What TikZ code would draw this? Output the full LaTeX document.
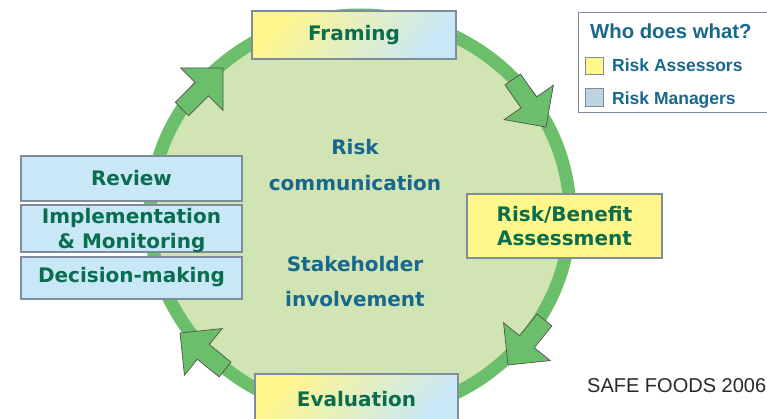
\documentclass[tikz,border=0pt]{standalone}
\usepackage{fontspec}
\newfontfamily\verd{DejaVu Sans}
\newfontfamily\arial{Liberation Sans}
\definecolor{ringgreen}{RGB}{108,191,106}
\definecolor{innergreen}{RGB}{209,228,179}
\definecolor{boxtext}{RGB}{10,110,78}
\definecolor{bluetext}{RGB}{24,104,140}
\definecolor{boxborder}{RGB}{127,140,155}
\definecolor{yel}{RGB}{255,246,140}
\definecolor{lblue}{RGB}{200,232,248}
\definecolor{legblue}{RGB}{190,212,226}
\definecolor{arrowline}{RGB}{80,80,80}
\definecolor{darkgray}{RGB}{40,40,40}
\tikzset{
  stagebox/.style={draw=boxborder, line width=1.1pt},
  stagetext/.style={font=\verd\bfseries\fontsize{20}{24.5}\selectfont, text=boxtext, align=center},
  centertext/.style={font=\verd\bfseries\fontsize{20}{24}\selectfont, text=bluetext, anchor=base},
  legtext/.style={font=\arial\bfseries\fontsize{17.5}{20}\selectfont, text=bluetext, anchor=base west, inner sep=0pt},
  arrowstyle/.style={fill=ringgreen, draw=arrowline, line width=0.7pt, line join=miter},
  blockarrow/.pic={\draw[arrowstyle] (0,0) -- (-30,30) -- (-30,9.5) -- (-58,9.5) -- (-58,-9.5) -- (-30,-9.5) -- (-30,-30) -- cycle;}
}
\begin{document}
\begin{tikzpicture}[x=1pt,y=1pt]
\useasboundingbox (0,0) rectangle (767,419);
\clip (0,0) rectangle (767,419);
% cycle
\draw[fill=innergreen, draw=ringgreen, line width=13pt] (360,204) ellipse [x radius=210, y radius=200];
% arrows
\pic[rotate=45] at (223,351) {blockarrow};
\pic[rotate=-55] at (546,292) {blockarrow};
\pic[rotate=231] at (508,54) {blockarrow};
\pic[rotate=141] at (180,86) {blockarrow};
% center text
\node[centertext] (risk) at (355,264) {Risk};
\node[centertext] (comm) at (355,228) {communication};
\node[centertext] (stake) at (355,147) {Stakeholder};
\node[centertext] (invol) at (355,112) {involvement};
% stage boxes
\draw[stagebox, top color=yel, bottom color=lblue, shading angle=50] (252,360) rectangle (456,408);
\node[stagetext] (framing) at (354,384) {Framing};
\draw[stagebox, top color=yel, bottom color=lblue, shading angle=50] (255,-5) rectangle (458,45);
\node[stagetext] (evaluation) at (356.5,20) {Evaluation};
\draw[stagebox, fill=yel] (467,161) rectangle (662,225);
\node[stagetext] (rba) at (564.5,193) {Risk/Benefit\\Assessment};
\draw[stagebox, fill=lblue] (21,218) rectangle (242,263);
\node[stagetext] (review) at (131.5,241) {Review};
\draw[stagebox, fill=lblue] (21,167) rectangle (242,214);
\node[stagetext, text depth=0pt] (impl) at (131.5,190.5) {Implementation\\\& Monitoring};
\draw[stagebox, fill=lblue] (21,120) rectangle (242,162);
\node[stagetext] (decision) at (131.5,142) {Decision-making};
% legend
\draw[draw=boxborder, line width=1pt, fill=white] (578,306) rectangle (770,406);
\node[legtext, font=\arial\bfseries\fontsize{20.3}{23}\selectfont] (legtitle) at (590,380) {Who does what?};
\draw[draw=boxborder, line width=0.8pt, fill=yel] (585,345) rectangle (603,362);
\node[legtext] (assessors) at (612,347.3) {Risk Assessors};
\draw[draw=boxborder, line width=0.8pt, fill=legblue] (585,313) rectangle (603,331);
\node[legtext] (managers) at (612,314.7) {Risk Managers};
% credit
\node[font=\arial\fontsize{20}{22}\selectfont, text=darkgray, anchor=base west, inner sep=0pt] (credit) at (587,26) {SAFE FOODS 2006};
\end{tikzpicture}
\end{document}
